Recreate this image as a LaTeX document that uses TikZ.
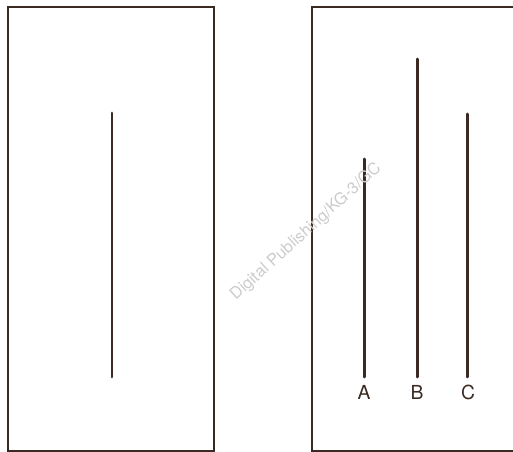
\documentclass[tikz,border=0pt]{standalone}
\usepackage{fontspec}
\setsansfont{TeX Gyre Heros}
\usetikzlibrary{positioning}
\definecolor{inkbrown}{HTML}{3A2A22}
\begin{document}
\begin{tikzpicture}[x=0.02cm, y=-0.02cm,
    card/.style={draw=inkbrown, line width=1.7pt, line join=miter},
    stimulus/.style={draw=inkbrown, line width=1.7pt, line cap=round},
    lbl/.style={font=\sffamily\fontsize{11}{12}\selectfont, text=inkbrown, inner sep=0pt},
    wmark/.style={font=\sffamily\fontsize{9.3}{10}\selectfont, text=gray!40, rotate=42}
]
\useasboundingbox (0,0) rectangle (513,452);

% --- Tarjeta de referencia ---
\draw[card] (8,7) rectangle (214,451);
\coordinate (reftop) at (112,113);
\coordinate (refbot) at (112,377);
\draw[stimulus] (reftop) -- (refbot);

% --- Tarjeta de comparacion ---
\draw[card] (514,7) -- (312,7) -- (312,451) -- (514,451);
\coordinate (atop) at (364,159);
\coordinate (abot) at (364,377);
\coordinate (btop) at (417,59);
\coordinate (bbot) at (417,377);
\coordinate (ctop) at (467,114);
\coordinate (cbot) at (467,377);
\draw[stimulus] (atop) -- (abot);
\draw[stimulus] (btop) -- (bbot);
\draw[stimulus] (ctop) -- (cbot);

% --- Etiquetas ---
\node[lbl] (lblA) at (364,392) {A};
\node[lbl] (lblB) at (417,392) {B};
\node[lbl] (lblC) at (468,392) {C};

% --- Marca de agua ---
\node[wmark] (marca) at (306,232) {Digital Publishing/KG-3/GC};

\end{tikzpicture}
\end{document}
